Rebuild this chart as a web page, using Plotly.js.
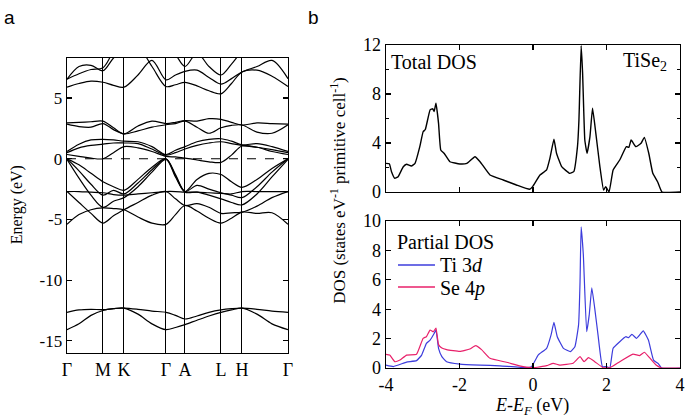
<!DOCTYPE html>
<html><head><meta charset="utf-8">
<script src="https://cdn.plot.ly/plotly-3.0.1.min.js"></script>
<style>html,body{margin:0;padding:0;background:#fff}#c{width:685px;height:417px}</style>
</head><body><div id="c"></div>
<script>
// ---- Band structure (panel a) ----
const kTicks = [0, 36, 57, 99, 118, 154, 175, 221];
const kLabels = ['Γ', 'M', 'K', 'Γ', 'A', 'L', 'H', 'Γ'];
const kGrid = [0, 12, 24, 36, 46.5, 57, 71, 85, 99, 108.5, 118, 130, 142, 154, 164.5, 175, 190, 205, 221];
const eTicks = [-15, -10, -5, 0, 5];
const eTickText = ['-15', '-10', '-5', '0', '5'];

const bandC1 = [5.9, 6.2, 6.4, 6.3, 6.05, 5.9, 6.9, 8.1, 6.5, 6.9, 7.2, 7.3, 6.7, 6.15, 6.6, 7.15, 7.6, 8.1, 6.6];
const bandC2 = [6.55, 7.6, 7.7, 7.25, 8.3, 9.0, 9.2, 7.6, 5.95, 6.1, 6.3, 6.0, 5.6, 5.35, 6.2, 7.15, 7.3, 6.8, 5.95];
const bandC3 = [6.55, 7.0, 7.35, 7.5, 8.8, 9.5, 9.5, 9.5, 9.5, 8.6, 7.6, 8.7, 7.6, 6.9, 7.8, 8.8, 9.5, 9.5, 9.5];
const bandM1 = [2.85, 2.65, 2.6, 2.9, 2.4, 2.05, 2.3, 2.6, 2.8, 2.9, 3.1, 2.6, 2.1, 2.55, 2.75, 2.78, 2.2, 2.1, 2.8];
const bandM2 = [2.95, 3.0, 3.05, 3.1, 2.55, 2.05, 2.7, 3.1, 2.9, 3.0, 3.15, 3.1, 3.3, 3.25, 3.0, 2.78, 2.95, 2.9, 2.85];
const bandT1 = [0.35, 0.2, 0.05, 0.0, 0.5, 1.0, 0.9, 0.6, 0.2, 0.15, 0.05, -0.1, -0.25, -0.3, 0.3, 1.05, 0.95, 0.6, 0.35];
const bandT2 = [0.5, 0.9, 1.1, 1.2, 1.3, 1.3, 1.25, 0.8, 0.3, 0.5, 0.8, 1.1, 1.3, 1.4, 1.25, 1.1, 0.95, 0.75, 0.5];
const bandT3 = [0.6, 1.2, 1.55, 1.6, 1.55, 1.45, 1.4, 1.0, 0.35, 0.7, 1.0, 1.4, 1.6, 1.65, 1.45, 1.15, 1.25, 1.0, 0.6];
const bandV1 = [0.0, -0.5, -1.2, -1.9, -2.3, -2.6, -1.7, -0.7, 0.0, -1.3, -2.7, -1.7, -1.2, -1.3, -1.9, -2.35, -1.7, -0.8, 0.0];
const bandV2 = [0.0, -1.0, -2.1, -3.0, -2.6, -2.9, -2.0, -0.9, 0.0, -1.4, -2.7, -2.2, -2.5, -2.8, -3.0, -3.2, -2.3, -1.1, 0.0];
const bandV3 = [-0.05, -1.6, -3.0, -4.0, -3.5, -3.2, -2.3, -1.1, -0.05, -1.5, -2.75, -2.75, -3.0, -3.3, -3.6, -3.8, -2.9, -1.5, -0.05];
const bandV4 = [-2.7, -2.7, -2.75, -2.8, -2.95, -3.0, -2.9, -2.8, -2.7, -2.7, -2.75, -2.75, -2.8, -2.85, -2.9, -2.7, -2.7, -2.7, -2.7];
const bandV5 = [-2.7, -3.6, -4.5, -5.3, -4.7, -4.2, -3.6, -3.0, -2.7, -3.3, -3.85, -3.7, -4.0, -4.5, -4.45, -4.4, -3.9, -3.2, -2.7];
const bandV6 = [-5.4, -4.6, -4.2, -4.05, -4.1, -4.2, -4.8, -5.3, -5.4, -4.6, -3.85, -4.3, -4.9, -5.3, -4.9, -4.4, -4.5, -4.45, -5.4];
const bandS1 = [-12.65, -12.45, -12.4, -12.43, -12.35, -12.3, -12.4, -12.55, -12.65, -12.9, -13.2, -12.95, -12.65, -12.45, -12.35, -12.3, -12.4, -12.55, -12.65];
const bandS2 = [-14.08, -13.6, -12.9, -12.5, -12.35, -12.3, -12.8, -13.6, -14.08, -13.9, -13.66, -13.3, -12.95, -12.65, -12.45, -12.3, -12.8, -13.6, -14.08];
const bands = [bandC1, bandC2, bandC3, bandM1, bandM2, bandT1, bandT2, bandT3,
  bandV1, bandV2, bandV3, bandV4, bandV5, bandV6, bandS1, bandS2];

// ---- Total DOS (panel b, top) ----
const eTot = [-4.0, -3.91, -3.85, -3.76, -3.67, -3.53, -3.44, -3.31, -3.21, -3.08, -2.99, -2.93, -2.8, -2.73, -2.69, -2.64, -2.57, -2.51, -2.42, -2.26, -1.99, -1.8, -1.58, -1.44, -1.17, -0.81, -0.45, -0.09, -0.01, 0.19, 0.37, 0.46, 0.57, 0.64, 0.78, 1.0, 1.11, 1.21, 1.25, 1.31, 1.35, 1.41, 1.47, 1.55, 1.62, 1.71, 1.82, 1.92, 1.98, 2.07, 2.18, 2.36, 2.54, 2.61, 2.67, 2.8, 2.94, 3.03, 3.15, 3.26, 3.39, 3.51, 4.0];
const dosTot = [2.34, 2.3, 1.66, 1.11, 1.25, 2.06, 2.26, 2.12, 2.34, 3.7, 4.92, 5.1, 6.7, 6.8, 6.57, 7.24, 5.6, 3.43, 3.16, 2.47, 2.29, 2.34, 2.88, 2.47, 1.39, 0.98, 0.57, 0.22, 0.44, 1.39, 1.8, 2.75, 4.3, 3.16, 2.07, 1.52, 1.66, 3.7, 5.88, 11.95, 9.7, 4.24, 3.16, 4.52, 6.83, 4.79, 2.07, 0.16, 0.44, 0.0, 1.8, 2.61, 3.7, 3.65, 4.24, 3.7, 3.97, 4.46, 3.16, 1.52, 0.84, 0.0, 0.0];
const dosTicks = [0, 4, 8, 12];
const dosMinor = [2, 6, 10];

// ---- Partial DOS (panel b, bottom) ----
const eTi = [-4.0, -3.8, -3.44, -3.17, -3.03, -2.9, -2.8, -2.69, -2.64, -2.57, -2.48, -2.35, -1.99, -1.44, -0.9, -0.18, -0.04, 0.14, 0.37, 0.49, 0.57, 0.66, 0.83, 1.02, 1.14, 1.24, 1.28, 1.31, 1.37, 1.46, 1.53, 1.6, 1.68, 1.77, 1.89, 2.0, 2.09, 2.18, 2.36, 2.53, 2.6, 2.69, 2.82, 3.0, 3.14, 3.28, 3.41, 3.5, 4.0];
const dosTi = [0.2, 0.1, 0.4, 0.5, 0.88, 1.68, 1.9, 2.35, 2.58, 1.34, 0.77, 0.43, 0.27, 0.2, 0.15, 0.02, 0.09, 0.88, 1.34, 2.24, 3.1, 2.13, 1.34, 1.11, 1.45, 2.93, 5.87, 9.61, 7.69, 2.47, 3.61, 5.46, 4.06, 2.24, 0.09, 0.1, 0.0, 1.34, 1.79, 2.13, 2.06, 2.29, 2.02, 2.52, 1.9, 0.54, 0.3, 0.0, 0.0];
const eSe = [-4.0, -3.9, -3.76, -3.62, -3.44, -3.17, -2.99, -2.9, -2.8, -2.71, -2.64, -2.57, -2.48, -2.35, -1.99, -1.72, -1.56, -1.4, -1.17, -0.72, -0.27, 0.0, 0.37, 0.55, 0.73, 1.09, 1.28, 1.39, 1.51, 1.68, 1.91, 2.09, 2.36, 2.72, 2.9, 3.03, 3.17, 3.35, 3.5, 4.0];
const dosSe = [0.93, 0.88, 0.43, 0.54, 0.88, 0.93, 2.02, 2.13, 2.58, 2.47, 2.72, 1.59, 1.36, 1.25, 1.13, 1.29, 1.52, 1.25, 0.66, 0.39, 0.09, 0.02, 0.16, 0.32, 0.2, 0.32, 0.77, 0.43, 0.7, 0.43, 0.02, 0.02, 0.43, 0.95, 0.84, 1.07, 0.7, 0.2, 0.0, 0.0];
const eAxTicks = [-4, -2, 0, 2, 4];
const eAxText = ['-4', '-2', '0', '2', '4'];
const pdosTicks = [0, 2, 4, 6, 8, 10];
const seriesNames = ['Ti 3<i>d</i>', 'Se 4<i>p</i>'];
const seriesColors = ['#3c3cdc', '#e8206a'];

const serif = 'Liberation Serif';
const black = '#000';
const traces = [];
bands.forEach(b => traces.push({
  x: kGrid, y: b, xaxis: 'x', yaxis: 'y', type: 'scatter', mode: 'lines',
  line: {color: black, width: 1.2, shape: 'spline', smoothing: 0.9}, showlegend: false, hoverinfo: 'skip'
}));
traces.push({x: eTot, y: dosTot, xaxis: 'x2', yaxis: 'y2', type: 'scatter', mode: 'lines',
  line: {color: black, width: 1.4, shape: 'spline', smoothing: 0.35}, showlegend: false});
traces.push({x: eTi, y: dosTi, xaxis: 'x3', yaxis: 'y3', type: 'scatter', mode: 'lines', name: seriesNames[0],
  line: {color: seriesColors[0], width: 1.2, shape: 'spline', smoothing: 0.35}, showlegend: false});
traces.push({x: eSe, y: dosSe, xaxis: 'x3', yaxis: 'y3', type: 'scatter', mode: 'lines', name: seriesNames[1],
  line: {color: seriesColors[1], width: 1.2, shape: 'spline', smoothing: 0.35}, showlegend: false});

function frame(extra) {
  return Object.assign({showline: true, linecolor: black, linewidth: 1.3, mirror: 'allticks', zeroline: false,
    showgrid: false, ticks: 'inside', ticklen: 5, tickcolor: black, tickwidth: 1.2,
    tickfont: {family: serif, size: 18, color: black}}, extra);
}

const tf = (s) => ({family: serif, size: s, color: black});
const layout = {
  width: 685, height: 417, margin: {l: 0, r: 0, t: 0, b: 0},
  paper_bgcolor: '#fff', plot_bgcolor: '#fff', showlegend: false,
  xaxis: frame({domain: [0.0978, 0.4204], range: [0, 221], anchor: 'y',
    tickmode: 'array', tickvals: kTicks, ticktext: kLabels, ticks: '', showgrid: true,
    gridcolor: black, gridwidth: 1.0, tickfont: tf(18)}),
  yaxis: frame({domain: [0.1535, 0.8609], range: [-16, 8.3], anchor: 'x',
    tickmode: 'array', tickvals: eTicks, ticktext: eTickText, tickfont: tf(17)}),
  xaxis2: frame({domain: [0.5635, 0.9927], range: [-4, 4], anchor: 'y2',
    tickmode: 'array', tickvals: [-2, 0, 2], showticklabels: false}),
  yaxis2: frame({domain: [0.5396, 0.8921], range: [0, 12], anchor: 'x2',
    tickmode: 'array', tickvals: dosTicks,
    minor: {tickmode: 'array', tickvals: dosMinor, ticks: 'inside', ticklen: 3, tickcolor: black}}),
  xaxis3: frame({domain: [0.5635, 0.9927], range: [-4, 4], anchor: 'y3',
    tickmode: 'array', tickvals: eAxTicks, ticktext: eAxText}),
  yaxis3: frame({domain: [0.1175, 0.47], range: [0, 10], anchor: 'x3',
    tickmode: 'array', tickvals: pdosTicks}),
  shapes: [
    {type: 'line', xref: 'x domain', yref: 'y', x0: 0, x1: 1, y0: 0, y1: 0,
      line: {color: black, width: 1.2, dash: 'dash'}},
    {type: 'line', xref: 'paper', yref: 'paper', x0: 0.581, x1: 0.635, y0: 1 - 265 / 417, y1: 1 - 265 / 417,
      line: {color: seriesColors[0], width: 1.3}},
    {type: 'line', xref: 'paper', yref: 'paper', x0: 0.581, x1: 0.635, y0: 1 - 287 / 417, y1: 1 - 287 / 417,
      line: {color: seriesColors[1], width: 1.3}}
  ],
  annotations: [
    {text: 'a', xref: 'paper', yref: 'paper', x: 0.003, y: 0.988, xanchor: 'left', yanchor: 'top', showarrow: false,
      font: {family: 'Liberation Sans', size: 19, color: black}},
    {text: 'b', xref: 'paper', yref: 'paper', x: 0.447, y: 0.988, xanchor: 'left', yanchor: 'top', showarrow: false,
      font: {family: 'Liberation Sans', size: 19, color: black}},
    {text: 'Energy (eV)', xref: 'paper', yref: 'paper', x: 0.025, y: 0.508, xanchor: 'center', yanchor: 'middle',
      textangle: -90, showarrow: false, font: tf(16)},
    {text: 'Total DOS', xref: 'paper', yref: 'paper', x: 0.568, y: 1 - 62 / 417, xanchor: 'left', yanchor: 'middle',
      showarrow: false, font: tf(20)},
    {text: 'TiSe<sub>2</sub>', xref: 'paper', yref: 'paper', x: 0.977, y: 1 - 62 / 417, xanchor: 'right', yanchor: 'middle',
      showarrow: false, font: tf(20)},
    {text: 'Partial DOS', xref: 'paper', yref: 'paper', x: 0.577, y: 1 - 242 / 417, xanchor: 'left', yanchor: 'middle',
      showarrow: false, font: tf(20)},
    {text: seriesNames[0], xref: 'paper', yref: 'paper', x: 0.640, y: 1 - 265 / 417, xanchor: 'left', yanchor: 'middle',
      showarrow: false, font: tf(20)},
    {text: seriesNames[1], xref: 'paper', yref: 'paper', x: 0.640, y: 1 - 288 / 417, xanchor: 'left', yanchor: 'middle',
      showarrow: false, font: tf(20)},
    {text: 'DOS (states eV<sup>-1</sup> primitive cell<sup>-1</sup>)', xref: 'paper', yref: 'paper',
      x: 0.493, y: 0.544, xanchor: 'center', yanchor: 'middle', textangle: -90, showarrow: false, font: tf(17)},
    {text: '<i>E</i>-<i>E</i><sub><i>F</i></sub> (eV)', xref: 'paper', yref: 'paper', x: 0.777, y: 1 - 406 / 417,
      xanchor: 'center', yanchor: 'middle', showarrow: false, font: tf(18)}
  ]
};
Plotly.newPlot('c', traces, layout, {staticPlot: true, displayModeBar: false});
</script></body></html>
